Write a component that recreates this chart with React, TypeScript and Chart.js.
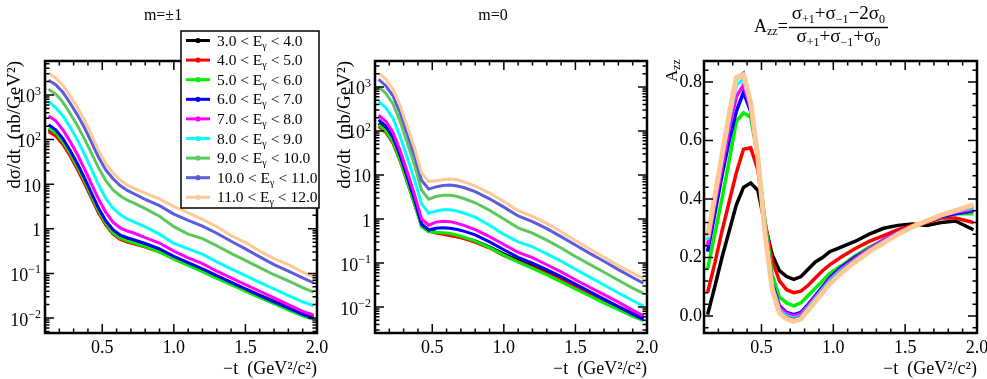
import React, { useEffect, useRef } from "react";
import { Chart, registerables } from "chart.js";

Chart.register(...registerables);

const SERIF = "'Liberation Serif', 'DejaVu Serif', serif";
Chart.defaults.font.family = SERIF;

// ---- categories / legend ----
const E_LOW = ["3.0", "4.0", "5.0", "6.0", "7.0", "8.0", "9.0", "10.0", "11.0"];
const E_HIGH = ["4.0", "5.0", "6.0", "7.0", "8.0", "9.0", "10.0", "11.0", "12.0"];
const COLORS = ["#000000", "#ff0000", "#00ee00", "#0000ff", "#ff00ff", "#00ffff", "#5cc85c", "#5c5cdc", "#ffc896"];

// ---- tick labels ----
const X_TICKS = [0.5, 1.0, 1.5, 2.0];
const AZZ_TICKS = [0.0, 0.2, 0.4, 0.6, 0.8];
const LOG_DECADES = [-2, -1, 0, 1, 2, 3];

// ---- -t values for the cross-section panels ----
const T_XS = [0.125, 0.175, 0.225, 0.275, 0.325, 0.375, 0.425, 0.475, 0.525, 0.575, 0.625, 0.675, 0.725, 0.8, 0.9, 1.0, 1.1, 1.2, 1.3, 1.4, 1.5, 1.6, 1.7, 1.8, 1.9, 1.975];

// ---- m = ±1 : dσ/dt (nb/GeV^2) ----
const PM1_E3 = [166, 132, 85.1, 46.8, 24.0, 11.5, 5.25, 2.40, 1.26, 0.794, 0.631, 0.562, 0.501, 0.427, 0.331, 0.229, 0.166, 0.120, 0.0871, 0.0631, 0.0447, 0.0324, 0.0240, 0.0174, 0.0129, 0.0107];
const PM1_E4 = [151, 120, 77.6, 42.7, 21.9, 10.5, 4.79, 2.24, 1.20, 0.759, 0.575, 0.501, 0.457, 0.389, 0.302, 0.214, 0.158, 0.115, 0.0832, 0.0603, 0.0437, 0.0316, 0.0234, 0.0174, 0.0129, 0.0110];
const PM1_E5 = [182, 141, 89.1, 49.0, 25.1, 12.0, 5.37, 2.51, 1.32, 0.813, 0.617, 0.537, 0.479, 0.398, 0.302, 0.209, 0.151, 0.110, 0.0776, 0.0562, 0.0398, 0.0288, 0.0209, 0.0151, 0.0112, 0.00933];
const PM1_E6 = [214, 166, 105, 57.5, 29.5, 14.1, 6.31, 2.88, 1.51, 0.955, 0.724, 0.631, 0.562, 0.468, 0.355, 0.240, 0.174, 0.126, 0.0891, 0.0631, 0.0447, 0.0316, 0.0229, 0.0166, 0.0120, 0.0100];
const PM1_E7 = [339, 263, 166, 91.2, 46.8, 22.4, 10.0, 4.57, 2.34, 1.41, 1.05, 0.891, 0.794, 0.631, 0.479, 0.316, 0.224, 0.166, 0.112, 0.0794, 0.0562, 0.0398, 0.0282, 0.0200, 0.0141, 0.0117];
const PM1_E8 = [708, 525, 339, 191, 100, 47.9, 21.4, 9.55, 4.79, 2.88, 2.09, 1.66, 1.41, 1.10, 0.759, 0.468, 0.355, 0.269, 0.182, 0.126, 0.0891, 0.0631, 0.0447, 0.0316, 0.0229, 0.0191];
const PM1_E9 = [1350, 1050, 692, 389, 209, 105, 49.0, 22.9, 12.0, 7.41, 5.50, 4.37, 3.72, 2.82, 1.91, 1.12, 0.759, 0.603, 0.417, 0.282, 0.195, 0.135, 0.0933, 0.0676, 0.0479, 0.0380];
const PM1_E10 = [2140, 1700, 1150, 661, 363, 186, 87.1, 39.8, 20.9, 13.2, 9.33, 7.24, 6.03, 4.57, 3.31, 2.14, 1.55, 1.15, 0.794, 0.525, 0.355, 0.234, 0.158, 0.112, 0.0794, 0.0617];
const PM1_E11 = [3090, 2400, 1660, 955, 537, 275, 126, 56.2, 28.8, 17.8, 12.3, 9.55, 7.94, 6.31, 4.68, 3.16, 2.29, 1.62, 1.11, 0.708, 0.490, 0.316, 0.214, 0.158, 0.107, 0.0851];

// ---- m = 0 : dσ/dt (nb/GeV^2) ----
const M0_E3 = [148, 107, 60.3, 23.4, 7.59, 2.40, 0.759, 0.562, 0.501, 0.468, 0.437, 0.407, 0.372, 0.316, 0.234, 0.162, 0.115, 0.0851, 0.0617, 0.0437, 0.0302, 0.0209, 0.0145, 0.0100, 0.00708, 0.00562];
const M0_E4 = [126, 93.3, 52.5, 20.9, 6.92, 2.24, 0.724, 0.537, 0.479, 0.447, 0.417, 0.389, 0.355, 0.295, 0.219, 0.148, 0.107, 0.0794, 0.0575, 0.0407, 0.0288, 0.0204, 0.0145, 0.0102, 0.00741, 0.00603];
const M0_E5 = [138, 100, 56.2, 21.9, 7.08, 2.24, 0.661, 0.513, 0.501, 0.490, 0.468, 0.427, 0.380, 0.316, 0.224, 0.151, 0.105, 0.0759, 0.0537, 0.0372, 0.0257, 0.0178, 0.0123, 0.00871, 0.00617, 0.00490];
const M0_E6 = [178, 129, 72.4, 28.2, 9.12, 2.82, 0.759, 0.562, 0.617, 0.631, 0.617, 0.575, 0.525, 0.437, 0.302, 0.200, 0.135, 0.100, 0.0708, 0.0490, 0.0331, 0.0224, 0.0151, 0.0102, 0.00692, 0.00525];
const M0_E7 = [229, 166, 93.3, 36.3, 11.7, 3.72, 1.0, 0.724, 0.851, 0.891, 0.871, 0.794, 0.708, 0.575, 0.398, 0.263, 0.174, 0.132, 0.0912, 0.0631, 0.0417, 0.0282, 0.0191, 0.0129, 0.00851, 0.00631];
const M0_E8 = [468, 339, 195, 75.9, 25.1, 7.94, 2.24, 1.35, 1.51, 1.62, 1.62, 1.51, 1.35, 1.10, 0.724, 0.447, 0.302, 0.234, 0.162, 0.110, 0.0724, 0.0479, 0.0316, 0.0209, 0.0141, 0.0105];
const M0_E9 = [1000, 724, 417, 166, 55.0, 17.4, 4.57, 2.82, 3.24, 3.47, 3.47, 3.24, 2.88, 2.34, 1.58, 1.0, 0.631, 0.479, 0.331, 0.219, 0.141, 0.0933, 0.0617, 0.0407, 0.0269, 0.0204];
const M0_E10 = [1480, 1070, 631, 263, 87.1, 28.2, 7.59, 4.79, 5.37, 5.75, 5.89, 5.62, 5.13, 4.17, 2.88, 1.86, 1.17, 0.871, 0.603, 0.398, 0.257, 0.166, 0.110, 0.0708, 0.0468, 0.0347];
const M0_E11 = [2090, 1510, 891, 380, 126, 41.7, 11.2, 7.08, 7.41, 7.76, 8.13, 7.76, 6.92, 5.62, 3.89, 2.51, 1.55, 1.15, 0.794, 0.513, 0.324, 0.209, 0.135, 0.0871, 0.0589, 0.0447];

// ---- A_zz ----
const AZZ_XS = [0.125, 0.175, 0.225, 0.275, 0.325, 0.375, 0.425, 0.475, 0.525, 0.575, 0.625, 0.675, 0.725, 0.775, 0.825, 0.875, 0.925, 0.975, 1.05, 1.15, 1.25, 1.35, 1.45, 1.55, 1.65, 1.75, 1.85, 1.975];
const AZZ_E3 = [0.005, 0.10, 0.20, 0.29, 0.38, 0.44, 0.455, 0.43, 0.31, 0.21, 0.155, 0.135, 0.125, 0.135, 0.16, 0.185, 0.20, 0.22, 0.235, 0.255, 0.28, 0.30, 0.31, 0.315, 0.31, 0.32, 0.325, 0.295];
const AZZ_E4 = [0.08, 0.18, 0.29, 0.39, 0.49, 0.57, 0.575, 0.50, 0.32, 0.19, 0.12, 0.09, 0.08, 0.085, 0.105, 0.13, 0.155, 0.175, 0.20, 0.23, 0.255, 0.275, 0.295, 0.31, 0.32, 0.335, 0.335, 0.32];
const AZZ_E5 = [0.16, 0.28, 0.40, 0.53, 0.665, 0.695, 0.68, 0.54, 0.32, 0.14, 0.065, 0.045, 0.035, 0.045, 0.07, 0.095, 0.12, 0.145, 0.17, 0.205, 0.235, 0.26, 0.285, 0.305, 0.325, 0.34, 0.35, 0.35];
const AZZ_E6 = [0.22, 0.35, 0.48, 0.60, 0.70, 0.765, 0.70, 0.54, 0.30, 0.11, 0.035, 0.012, 0.005, 0.012, 0.04, 0.07, 0.10, 0.13, 0.165, 0.20, 0.23, 0.26, 0.285, 0.305, 0.325, 0.34, 0.35, 0.36];
const AZZ_E7 = [0.24, 0.38, 0.51, 0.64, 0.75, 0.79, 0.71, 0.54, 0.29, 0.105, 0.03, 0.008, 0.0, 0.008, 0.035, 0.065, 0.095, 0.125, 0.16, 0.195, 0.23, 0.26, 0.285, 0.305, 0.325, 0.345, 0.355, 0.365];
const AZZ_E8 = [0.26, 0.40, 0.54, 0.67, 0.79, 0.81, 0.72, 0.54, 0.285, 0.10, 0.02, 0.0, -0.008, 0.0, 0.03, 0.06, 0.09, 0.12, 0.155, 0.19, 0.225, 0.255, 0.28, 0.305, 0.325, 0.345, 0.36, 0.37];
const AZZ_E9 = [0.275, 0.41, 0.55, 0.69, 0.81, 0.83, 0.72, 0.54, 0.28, 0.095, 0.015, -0.005, -0.012, -0.003, 0.025, 0.055, 0.085, 0.115, 0.15, 0.19, 0.225, 0.255, 0.28, 0.305, 0.325, 0.345, 0.36, 0.375];
const AZZ_E10 = [0.275, 0.41, 0.55, 0.69, 0.81, 0.83, 0.72, 0.54, 0.28, 0.095, 0.015, -0.005, -0.012, -0.003, 0.025, 0.055, 0.085, 0.115, 0.15, 0.19, 0.225, 0.255, 0.28, 0.305, 0.325, 0.345, 0.36, 0.375];
const AZZ_E11 = [0.27, 0.41, 0.55, 0.69, 0.815, 0.825, 0.73, 0.54, 0.28, 0.09, 0.01, -0.01, -0.018, -0.01, 0.02, 0.05, 0.08, 0.11, 0.145, 0.185, 0.22, 0.25, 0.28, 0.305, 0.325, 0.345, 0.36, 0.38];

const PM1_SERIES = [PM1_E3, PM1_E4, PM1_E5, PM1_E6, PM1_E7, PM1_E8, PM1_E9, PM1_E10, PM1_E11];
const M0_SERIES = [M0_E3, M0_E4, M0_E5, M0_E6, M0_E7, M0_E8, M0_E9, M0_E10, M0_E11];
const AZZ_SERIES = [AZZ_E3, AZZ_E4, AZZ_E5, AZZ_E6, AZZ_E7, AZZ_E8, AZZ_E9, AZZ_E10, AZZ_E11];

type Part = { t: string; size: number; dy?: number };

function richWidth(ctx: CanvasRenderingContext2D, parts: Part[]) {
  let w = 0;
  for (const p of parts) {
    ctx.font = `${p.size}px ${SERIF}`;
    w += ctx.measureText(p.t).width;
  }
  return w;
}

function drawRich(ctx: CanvasRenderingContext2D, parts: Part[], x: number, y: number, align: "left" | "center" | "right" = "left") {
  ctx.save();
  ctx.fillStyle = "#000";
  ctx.textBaseline = "alphabetic";
  ctx.textAlign = "left";
  const w = richWidth(ctx, parts);
  let cx = align === "left" ? x : align === "center" ? x - w / 2 : x - w;
  for (const p of parts) {
    ctx.font = `${p.size}px ${SERIF}`;
    ctx.fillText(p.t, cx, y + (p.dy || 0));
    cx += ctx.measureText(p.t).width;
  }
  ctx.restore();
  return w;
}

function legendLabel(i: number) {
  return `${E_LOW[i]} < Eγ < ${E_HIGH[i]}`;
}

function makeDatasets(xs: number[], series: number[][], width: (i: number) => number) {
  return series.map((vals, i) => ({
    label: legendLabel(i),
    data: xs.map((x, k) => ({ x, y: vals[k] })),
    borderColor: COLORS[i],
    backgroundColor: COLORS[i],
    borderWidth: width(i),
    pointRadius: 0,
    tension: 0,
    fill: false,
    order: series.length - 1 - i,
  }));
}

type PanelKind = "pm1" | "m0" | "azz";

function framePlugin(kind: PanelKind) {
  return {
    id: "rootFrame",
    afterDatasetsDraw(chart: any) {
      const { ctx, chartArea: a } = chart;
      const xs = chart.scales.x;
      const ys = chart.scales.y;
      ctx.save();
      ctx.strokeStyle = "#000";
      ctx.lineWidth = 1.5;
      ctx.beginPath();
      const hTick = (v: number, len: number) => {
        const p = xs.getPixelForValue(v);
        ctx.moveTo(p, a.bottom);
        ctx.lineTo(p, a.bottom - len);
        ctx.moveTo(p, a.top);
        ctx.lineTo(p, a.top + len);
      };
      const vTick = (v: number, len: number) => {
        const p = ys.getPixelForValue(v);
        if (p < a.top + 1 || p > a.bottom - 1) return;
        ctx.moveTo(a.left, p);
        ctx.lineTo(a.left + len, p);
        ctx.moveTo(a.right, p);
        ctx.lineTo(a.right - len, p);
      };
      for (let i = 2; i < 20; i++) {
        const v = i / 10;
        const major = X_TICKS.some((t) => Math.abs(t - v) < 1e-9);
        hTick(v, major ? 9 : 4.5);
      }
      if (kind === "azz") {
        for (let k = -2; k <= 22; k++) {
          const v = Math.round(k * 4) / 100;
          vTick(v, k % 5 === 0 ? 9 : 4.5);
        }
      } else {
        for (let d = -3; d <= 3; d++) {
          for (let m = 1; m <= 9; m++) {
            vTick(m * Math.pow(10, d), m === 1 ? 9 : 4.5);
          }
        }
      }
      ctx.stroke();
      ctx.lineWidth = 2.5;
      ctx.strokeRect(a.left, a.top, a.right - a.left, a.bottom - a.top);
      ctx.restore();
    },
    afterDraw(chart: any) {
      const { ctx, chartArea: a } = chart;
      const ys = chart.scales.y;
      if (kind !== "azz") {
        // log tick labels with real superscripts
        for (const d of LOG_DECADES) {
          const p = ys.getPixelForValue(Math.pow(10, d));
          let parts: Part[];
          if (d === 0) parts = [{ t: "1", size: 18 }];
          else if (d === 1) parts = [{ t: "10", size: 18 }];
          else parts = [{ t: "10", size: 18 }, { t: d < 0 ? "\u2212" + -d : String(d), size: 12, dy: -7.5 }];
          drawRich(ctx, parts, a.left - 4, p + 7.5, "right");
        }
        drawRich(ctx, [{ t: kind === "pm1" ? "m=\u00b11" : "m=0", size: 16 }], 163, 20, "center");
      } else {
        // A_zz title on the y axis (rotated)
        ctx.save();
        ctx.translate(17, 82);
        ctx.rotate(-Math.PI / 2);
        drawRich(ctx, [{ t: "A", size: 17 }, { t: "zz", size: 12, dy: 3 }], 0, 0, "left");
        ctx.restore();
        // formula title
        const left = drawRich(ctx, [{ t: "A", size: 18 }, { t: "zz", size: 12, dy: 3 }, { t: "=", size: 18 }], 94, 32, "left");
        const barL = 94 + left + 1;
        const num: Part[] = [
          { t: "σ", size: 19 }, { t: "+1", size: 12, dy: 4 }, { t: "+", size: 19 },
          { t: "σ", size: 19 }, { t: "\u22121", size: 12, dy: 4 }, { t: "\u22122", size: 19 },
          { t: "σ", size: 19 }, { t: "0", size: 12, dy: 4 },
        ];
        const den: Part[] = [
          { t: "σ", size: 19 }, { t: "+1", size: 12, dy: 4 }, { t: "+", size: 19 },
          { t: "σ", size: 19 }, { t: "\u22121", size: 12, dy: 4 }, { t: "+", size: 19 },
          { t: "σ", size: 19 }, { t: "0", size: 12, dy: 4 },
        ];
        const wn = richWidth(ctx, num);
        const barR = barL + wn + 6;
        const cx = (barL + barR) / 2;
        ctx.save();
        ctx.strokeStyle = "#000";
        ctx.lineWidth = 1.5;
        ctx.beginPath();
        ctx.moveTo(barL, 27.5);
        ctx.lineTo(barR, 27.5);
        ctx.stroke();
        ctx.restore();
        drawRich(ctx, num, cx, 19, "center");
        drawRich(ctx, den, cx, 42, "center");
      }
      if (kind === "pm1") {
        // legend box
        const bx = 181, by = 31, bw = 138, bh = 177;
        ctx.save();
        ctx.fillStyle = "#fff";
        ctx.fillRect(bx, by, bw, bh);
        ctx.strokeStyle = "#000";
        ctx.lineWidth = 1.5;
        ctx.strokeRect(bx, by, bw, bh);
        for (let i = 0; i < E_LOW.length; i++) {
          const yy = 40.5 + i * 19.6;
          ctx.strokeStyle = COLORS[i];
          ctx.fillStyle = COLORS[i];
          ctx.lineWidth = 3;
          ctx.beginPath();
          ctx.moveTo(186, yy);
          ctx.lineTo(210, yy);
          ctx.stroke();
          ctx.beginPath();
          ctx.arc(198, yy, 2.6, 0, Math.PI * 2);
          ctx.fill();
          drawRich(
            ctx,
            [
              { t: `${E_LOW[i]} < E`, size: 15.5 },
              { t: "γ", size: 10, dy: 3 },
              { t: ` < ${E_HIGH[i]}`, size: 15.5 },
            ],
            217,
            yy + 5,
            "left"
          );
        }
        ctx.restore();
      }
    },
  };
}

function makeConfig(kind: PanelKind): any {
  const isAzz = kind === "azz";
  const xs = isAzz ? AZZ_XS : T_XS;
  const series = kind === "pm1" ? PM1_SERIES : kind === "m0" ? M0_SERIES : AZZ_SERIES;
  const datasets = makeDatasets(xs, series, (i) => (isAzz ? (i === 8 ? 5 : 3.5) : 3));
  const font18 = { family: SERIF, size: 18 };
  const yScale: any = isAzz
    ? {
        type: "linear",
        min: -0.058,
        max: 0.872,
        grid: { display: false, drawTicks: false },
        border: { display: false },
        afterBuildTicks: (ax: any) => {
          ax.ticks = AZZ_TICKS.map((v) => ({ value: v }));
        },
        ticks: { font: font18, color: "#000", padding: 2, autoSkip: false, callback: (v: any) => Number(v).toFixed(1) },
        afterFit: (ax: any) => {
          ax.width = 44;
          ax.paddingTop = 0;
          ax.paddingBottom = 0;
        },
      }
    : {
        type: "logarithmic",
        min: kind === "pm1" ? 0.00461 : 0.00257,
        max: kind === "pm1" ? 5780 : 3890,
        grid: { display: false, drawTicks: false },
        border: { display: false },
        ticks: { display: false },
        title: {
          display: true,
          text: "dσ/dt  (nb/GeV²)",
          align: "end",
          color: "#000",
          font: { family: SERIF, size: 19 },
          padding: { top: 4, bottom: 0 },
        },
        afterFit: (ax: any) => {
          ax.width = 45;
          ax.paddingTop = 0;
          ax.paddingBottom = 0;
        },
      };
  return {
    type: "line",
    data: { datasets },
    options: {
      responsive: false,
      animation: false,
      devicePixelRatio: 1,
      parsing: true,
      layout: { padding: { left: 0, right: isAzz ? 10 : 13, top: 61, bottom: 0 } },
      plugins: { legend: { display: false }, tooltip: { enabled: false }, title: { display: false } },
      elements: { point: { radius: 0 }, line: { tension: 0 } },
      scales: {
        x: {
          type: "linear",
          min: 0.1,
          max: 2.0,
          grid: { display: false, drawTicks: false },
          border: { display: false },
          afterBuildTicks: (ax: any) => {
            ax.ticks = X_TICKS.map((v) => ({ value: v }));
          },
          afterFit: (ax: any) => {
            ax.height = 46;
            ax.paddingLeft = 0;
            ax.paddingRight = 0;
          },
          ticks: {
            font: font18,
            color: "#000",
            padding: 4,
            maxRotation: 0,
            autoSkip: false,
            callback: (v: any) => Number(v).toFixed(1),
          },
          title: {
            display: true,
            text: "\u2212t  (GeV²/c²)",
            align: "end",
            color: "#000",
            font: font18,
            padding: { top: 0, bottom: -1 },
          },
        },
        y: yScale,
      },
    },
    plugins: [framePlugin(kind)],
  };
}

function Panel({ kind, left, width }: { kind: PanelKind; left: number; width: number }) {
  const ref = useRef<HTMLCanvasElement | null>(null);
  useEffect(() => {
    if (!ref.current) return;
    const chart = new Chart(ref.current, makeConfig(kind));
    return () => chart.destroy();
  }, [kind]);
  return (
    <canvas
      ref={ref}
      width={width}
      height={379}
      style={{ position: "absolute", left, top: 0, width, height: 379, display: "block" }}
    />
  );
}

export default function App() {
  return (
    <div style={{ position: "fixed", left: 0, top: 0, width: 987, height: 379, background: "#fff", overflow: "hidden" }}>
      <Panel kind="pm1" left={0} width={330} />
      <Panel kind="m0" left={330} width={330} />
      <Panel kind="azz" left={660} width={327} />
    </div>
  );
}
